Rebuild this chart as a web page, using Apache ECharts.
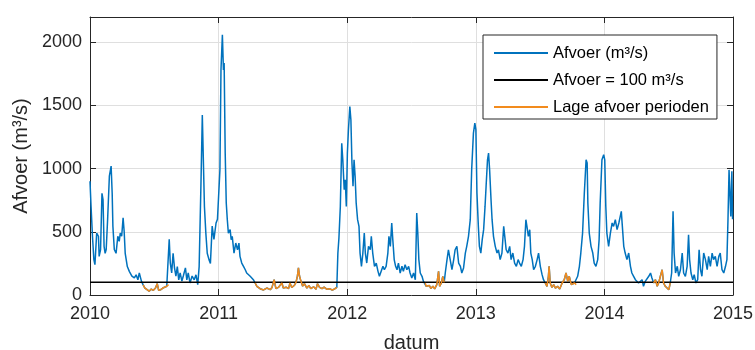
<!DOCTYPE html>
<html>
<head>
<meta charset="utf-8">
<title>Afvoer 2010-2015</title>
<script src="https://cdn.jsdelivr.net/npm/echarts@6/dist/echarts.min.js"></script>
<style>
  html, body { margin: 0; padding: 0; background: #fff; }
  #main { width: 755px; height: 350px; }
</style>
</head>
<body>
<div id="main"></div>
<script>
// dagen sinds 1 jan 2010
const dag = [
  0, 3, 7, 11, 14, 19, 24, 26, 30, 34, 37, 40, 43, 46, 50, 55, 60, 63, 65, 69, 74, 79, 83, 86, 90, 94, 97, 100, 106, 112, 119, 126, 131, 136, 140, 146,
  151, 156, 161, 168, 174, 180, 186, 191, 195, 201, 207, 212, 218, 223,
  225, 228, 232, 236, 240, 244, 248, 252, 256, 261, 265, 271, 275, 279, 284, 290, 296, 301, 306, 310, 315, 319, 322, 325, 329, 333, 338, 342, 347, 352, 358, 362,
  369, 372, 376, 379, 381, 384, 387, 390, 393, 398, 401, 404, 409, 414, 419, 423, 426, 431, 436, 441, 445, 450, 455, 460, 464,
  469, 474, 483, 493, 502, 512, 517, 523, 528, 535, 540, 545, 549, 557, 564, 568, 573, 580, 585, 589, 592, 595, 599, 604, 609, 616, 622, 627, 635, 642, 646, 652, 659, 665, 673, 680, 688, 695, 701,
  704, 707, 711, 715, 718, 722, 725, 728,
  731, 734, 738, 741, 744, 747, 750, 753, 756, 760, 764, 767, 771, 775, 779, 782, 786, 791, 796, 799, 803, 808, 813, 818, 822, 827, 832, 836, 841, 846, 849, 853, 857, 860, 864, 868, 872, 876, 881, 886, 890, 895, 900, 905, 909, 914, 919, 924, 928, 931, 934, 938, 943, 947,
  952, 955, 960, 964, 968, 974, 979, 985, 990, 993, 998, 1002, 1006,
  1009, 1014, 1018, 1023, 1028, 1033, 1037, 1042, 1047, 1052, 1056, 1061, 1066, 1070, 1075, 1080, 1084, 1089, 1093,
  1096, 1099, 1103, 1106, 1110, 1114, 1118, 1122, 1125, 1129, 1132, 1135, 1139, 1142, 1146, 1151, 1156, 1160, 1165, 1170, 1175, 1179, 1182, 1187, 1192, 1196, 1201, 1206, 1211, 1216, 1220, 1225, 1230, 1234, 1238, 1241, 1245, 1249, 1252, 1256, 1260, 1265, 1270, 1274, 1279, 1284, 1288,
  1293, 1298, 1302, 1304, 1307, 1312, 1317, 1322, 1328, 1334, 1341, 1347, 1352, 1357, 1361, 1367, 1372, 1376, 1381,
  1385, 1390, 1394, 1399, 1404, 1409, 1412, 1414, 1418, 1423, 1428, 1432, 1437, 1442, 1446, 1449, 1454, 1459,
  1462, 1465, 1468, 1473, 1478, 1483, 1487, 1492, 1497, 1502, 1506, 1509, 1512, 1516, 1520, 1525, 1530, 1535, 1539, 1544, 1549, 1554, 1558, 1563, 1568, 1572, 1577, 1582, 1587, 1592, 1596,
  1601, 1606, 1611, 1615, 1620, 1625, 1629, 1634, 1639, 1644, 1648,
  1652, 1656, 1659, 1663, 1668, 1672, 1677, 1682, 1686, 1691, 1696, 1700, 1703, 1707, 1712, 1716, 1721, 1726, 1730, 1734, 1738, 1743, 1748, 1753, 1757, 1762, 1767, 1771, 1776, 1781, 1786, 1790, 1795, 1800, 1805, 1809, 1812, 1815, 1818, 1820, 1823, 1825
];
// afvoer in m3/s
const afvoer = [
  900, 700, 465, 280, 240, 490, 465, 305, 360, 805, 755, 385, 330, 360, 595, 940, 1020, 805, 545, 360, 330, 465, 425, 490, 465, 610, 505, 330, 225, 185, 150, 135, 160, 120, 175, 110,
  80, 55, 42, 30, 47, 37, 55, 90, 37, 42, 55, 47, 69, 82,
  440, 255, 175, 330, 215, 150, 225, 120, 175, 110, 150, 215, 120, 175, 95, 150, 120, 160, 82, 225, 860, 1425, 1410, 700, 490, 330, 280, 250, 545, 440, 570, 600,
  990, 1780, 2060, 1780, 1835, 1123, 728, 596, 490, 517, 438, 464, 332, 411, 358, 411, 306, 253, 227, 200, 174, 187, 148, 161, 121,
  95, 69, 50, 40, 55, 42, 60, 121, 50, 60, 45, 95, 55, 62, 50, 95, 60, 75, 100, 148, 214, 150, 110, 70, 90, 55, 75, 50, 65, 45, 90, 60, 50, 62, 45, 50, 40, 48, 60,
  330, 450, 700, 1200, 1070, 833, 912, 701,
  1123, 1308, 1492, 1387, 1044, 860, 1070, 939, 728, 596, 543, 332, 227, 332, 490, 332, 253, 385, 358, 464, 332, 227, 253, 187, 148, 161, 227, 200, 227, 332, 464, 385, 570, 438, 280, 227, 200, 253, 174, 227, 187, 240, 200, 227, 174, 134, 174, 121, 649, 490, 280, 174, 148, 108,
  95, 69, 55, 75, 52, 69, 48, 82, 187, 69, 95, 148, 100,
  174, 280, 358, 280, 200, 280, 358, 385, 253, 227, 174, 214, 332, 385, 464, 596, 990, 1281, 1360,
  1308, 807, 543, 385, 332, 438, 517, 701, 860, 1070, 1123, 990, 754, 596, 464, 385, 332, 358, 280, 332, 543, 438, 358, 332, 385, 280, 332, 253, 227, 280, 253, 227, 280, 385, 596, 543, 464, 517, 332, 280, 200, 227, 280, 332, 227, 161, 121,
  95, 69, 148, 227, 95, 60, 82, 55, 69, 48, 95, 121, 174, 108, 148, 82, 69, 95, 82,
  148, 227, 332, 490, 807, 1070, 1044, 728, 490, 385, 332, 253, 227, 280, 438, 728, 1070, 1110,
  1070, 701, 490, 385, 490, 570, 543, 596, 517, 570, 622, 662, 543, 385, 332, 280, 332, 227, 174, 148, 121, 134, 95, 82, 121, 69, 108, 95, 148, 174, 134,
  95, 121, 69, 95, 148, 200, 95, 69, 82, 42, 95,
  174, 662, 332, 174, 227, 148, 200, 332, 174, 148, 227, 477, 280, 174, 121, 161, 95, 121, 358, 200, 148, 332, 280, 200, 306, 227, 332, 280, 306, 227, 306, 332, 200, 174, 227, 280, 596, 990, 1000, 622, 980, 600
];
// lage afvoer perioden (dag begin, dag eind)
const lagePerioden = [[151, 223], [469, 701], [952, 1006], [1293, 1381], [1601, 1648]];
const drempel = 100;
const jaren = [2010, 2015];

const jaar = d => 2010 + d / 365.25;

const afvoerData = dag.map((d, i) => [jaar(d), afvoer[i]]);
const laagData = [];
lagePerioden.forEach(p => {
  dag.forEach((d, i) => {
    if (d >= p[0] && d <= p[1]) laagData.push([jaar(d), afvoer[i]]);
  });
  laagData.push(null);
});

const tekst = '#262626';
const font = 'Liberation Sans, Arial, sans-serif';

const chart = echarts.init(document.getElementById('main'));
chart.setOption({
  animation: false,
  backgroundColor: '#fff',
  textStyle: { fontFamily: font },
  grid: { left: 90, right: 22, top: 17, bottom: 55, outerBoundsMode: 'none' },
  legend: {
    orient: 'vertical',
    left: 483,
    top: 35,
    padding: [8, 8, 2, 11],
    itemGap: 7,
    itemWidth: 54,
    itemHeight: 2,
    icon: 'rect',
    backgroundColor: '#fff',
    borderColor: tekst,
    borderWidth: 1,
    borderRadius: 0,
    textStyle: { fontSize: 16.5, color: '#000', lineHeight: 20, fontFamily: font },
    data: ['Afvoer (m³/s)', 'Afvoer = 100 m³/s', 'Lage afvoer perioden']
  },
  xAxis: [{
    type: 'value',
    min: jaren[0],
    max: jaren[1],
    interval: 1,
    position: 'bottom',
    name: 'datum',
    nameLocation: 'middle',
    nameGap: 38,
    nameTextStyle: { fontSize: 20, color: tekst },
    axisLine: { onZero: false, lineStyle: { color: tekst, width: 1 } },
    axisTick: { inside: true, length: 6, lineStyle: { color: tekst } },
    axisLabel: { fontSize: 18, color: tekst, margin: 10, formatter: v => String(v) },
    splitLine: { show: true, lineStyle: { color: '#dfdfdf', width: 1 } }
  }, {
    type: 'value',
    min: jaren[0],
    max: jaren[1],
    interval: 1,
    position: 'top',
    axisLine: { onZero: false, lineStyle: { color: tekst, width: 1 } },
    axisTick: { inside: true, length: 6, lineStyle: { color: tekst } },
    axisLabel: { show: false },
    splitLine: { show: false }
  }],
  yAxis: [{
    type: 'value',
    min: 0,
    max: 2200,
    interval: 500,
    position: 'left',
    name: 'Afvoer (m³/s)',
    nameLocation: 'middle',
    nameGap: 48,
    nameTextStyle: { fontSize: 20, color: tekst },
    axisLine: { show: true, onZero: false, lineStyle: { color: tekst, width: 1 } },
    axisTick: { show: true, inside: true, length: 6, lineStyle: { color: tekst } },
    axisLabel: { fontSize: 18, color: tekst, margin: 8, showMaxLabel: false, formatter: v => String(v) },
    splitLine: { show: true, lineStyle: { color: '#dfdfdf', width: 1 } }
  }, {
    type: 'value',
    min: 0,
    max: 2200,
    interval: 500,
    position: 'right',
    axisLine: { show: true, onZero: false, lineStyle: { color: tekst, width: 1 } },
    axisTick: { show: true, inside: true, length: 6, lineStyle: { color: tekst } },
    axisLabel: { show: false },
    splitLine: { show: false }
  }],
  series: [{
    name: 'Afvoer (m³/s)',
    type: 'line',
    data: afvoerData,
    symbol: 'none',
    color: '#0072bd',
    lineStyle: { width: 1.5, color: '#0072bd' }
  }, {
    name: 'Afvoer = 100 m³/s',
    type: 'line',
    data: [[jaren[0], drempel], [jaren[1], drempel]],
    symbol: 'none',
    color: '#000',
    lineStyle: { width: 1.5, color: '#000' }
  }, {
    name: 'Lage afvoer perioden',
    type: 'line',
    data: laagData,
    connectNulls: false,
    symbol: 'none',
    color: '#f28b1d',
    lineStyle: { width: 1.5, color: '#f28b1d' }
  }]
});
</script>
</body>
</html>
